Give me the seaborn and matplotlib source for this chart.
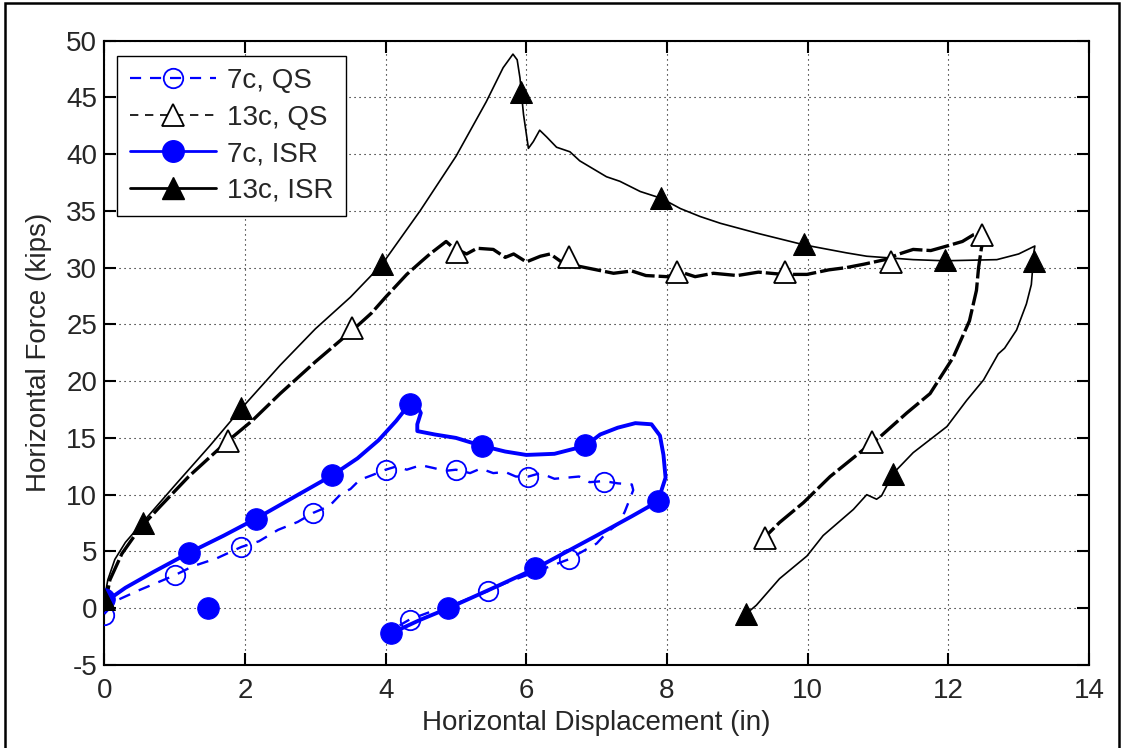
import matplotlib
matplotlib.use("Agg")
import matplotlib.pyplot as plt
import seaborn as sns
import pandas as pd
from matplotlib.lines import Line2D
from matplotlib.patches import Rectangle

# ---------------- data ----------------
qs7_x = [0.0, 0.18, 0.5, 1.0, 1.26, 1.6, 1.95, 2.2, 2.47, 2.75, 2.97, 3.2, 3.37, 3.5, 3.63, 3.8,
         4.0, 4.16, 4.3, 4.5, 4.68, 4.85, 5.0, 5.2, 5.35, 5.53, 5.7, 5.85, 6.03, 6.2, 6.4, 6.58,
         6.75, 6.9, 7.1, 7.3, 7.5, 7.52, 7.47, 7.4, 7.32, 7.15, 7.0, 6.8, 6.6, 6.3, 6.0, 5.7,
         5.45, 5.2, 4.9, 4.6, 4.34, 4.2]
qs7_y = [-0.5, 0.7, 1.6, 2.9, 3.7, 4.4, 5.4, 5.9, 6.9, 7.6, 8.4, 9.0, 10.1, 10.5, 11.3, 11.7,
         12.2, 12.5, 12.2, 12.6, 12.35, 12.1, 12.2, 11.9, 12.3, 11.9, 12.0, 11.6, 11.6, 11.9, 11.4, 11.5,
         11.6, 11.1, 11.2, 11.0, 10.9, 10.4, 9.6, 8.5, 7.5, 6.7, 5.7, 5.0, 4.3, 3.6, 2.9, 2.2,
         1.5, 0.9, 0.15, -0.4, -1.0, -1.5]
qs7_mx = [0.0, 1.0, 1.95, 2.97, 4.0, 5.0, 6.03, 7.1, 6.6, 5.45, 4.34]
qs7_my = [-0.6, 2.9, 5.4, 8.4, 12.2, 12.2, 11.6, 11.1, 4.3, 1.5, -1.0]

isr7_x = [0.0, 0.3, 0.7, 1.21, 1.7, 2.16, 2.7, 3.24, 3.6, 3.9, 4.15, 4.34, 4.45, 4.5, 4.45,
          4.45, 4.7, 5.0, 5.37, 5.7, 6.0, 6.4, 6.84, 7.05, 7.3, 7.55, 7.78, 7.9, 7.95, 7.98,
          7.87, 7.5, 7.0, 6.13, 5.5, 4.89, 4.5, 4.08]
isr7_y = [0.5, 1.8, 3.2, 4.9, 6.4, 7.9, 9.8, 11.7, 13.2, 14.8, 16.5, 18.0, 17.8, 17.2, 16.2,
          15.6, 15.3, 15.0, 14.3, 13.8, 13.5, 13.6, 14.3, 15.3, 15.9, 16.3, 16.2, 15.2, 13.5, 11.5,
          9.4, 8.1, 6.4, 3.5, 1.7, 0.0, -1.0, -2.2]
isr7_mx = [0.0, 1.21, 2.16, 3.24, 4.34, 5.37, 6.84, 7.87, 6.13, 4.89, 4.08, 1.47]
isr7_my = [0.8, 4.9, 7.9, 11.7, 18.0, 14.3, 14.35, 9.4, 3.5, 0.0, -2.2, 0.0]

qs13_x = [0.0, 0.08, 0.25, 0.5, 0.8, 1.2, 1.5, 1.75, 2.1, 2.5, 3.0, 3.55, 3.8, 4.0, 4.3, 4.5,
          4.63, 4.86, 4.95, 5.15, 5.3, 5.53, 5.7, 5.82, 6.0, 6.2, 6.34, 6.5, 6.76, 7.0, 7.24,
          7.5, 7.7, 8.0, 8.2, 8.4, 8.66, 9.0, 9.3, 9.65, 9.99, 10.3, 10.55, 10.8, 11.1, 11.3,
          11.5, 11.75, 11.98, 12.2, 12.36, 12.47, 12.5, 12.47, 12.43, 12.4, 12.3, 12.07, 11.74,
          11.41, 11.03, 10.92, 10.32, 9.94, 9.6, 9.35]
qs13_y = [0.0, 2.5, 4.8, 7.0, 9.0, 11.6, 13.3, 14.7, 16.5, 18.9, 21.7, 24.6, 26.0, 27.4, 29.4, 30.5,
          31.2, 32.3, 31.8, 31.2, 31.7, 31.6, 30.9, 31.2, 30.5, 31.0, 31.2, 30.5, 30.1, 29.8, 29.5,
          29.7, 29.3, 29.2, 29.6, 29.2, 29.5, 29.3, 29.6, 29.4, 29.4, 29.8, 30.0, 30.3, 30.7, 31.2,
          31.6, 31.5, 31.9, 32.3, 32.9, 33.1, 32.5, 31.7, 30.0, 28.0, 25.3, 22.1, 18.9,
          17.2, 15.1, 14.6, 11.6, 9.3, 7.55, 6.0]
qs13_mx = [1.76, 3.52, 5.02, 6.6, 8.14, 9.68, 11.18, 12.48, 10.92, 9.39]
qs13_my = [14.75, 24.7, 31.4, 30.9, 29.6, 29.6, 30.5, 32.9, 14.6, 6.2]

isr13_x = [0.0, 0.05, 0.15, 0.3, 0.55, 1.0, 1.5, 1.95, 2.5, 3.0, 3.5, 3.95, 4.49, 5.0, 5.43,
           5.67, 5.81, 5.87, 5.91, 5.93, 5.96, 6.03, 6.1, 6.19, 6.29, 6.43, 6.62, 6.76, 7.14,
           7.33, 7.62, 7.92, 8.19, 8.47, 8.76, 9.3, 9.95, 10.55, 10.84, 11.5, 11.95, 12.69,
           13.0, 13.23, 13.22, 13.18, 13.11, 12.97, 12.8, 12.71, 12.5, 12.26, 11.98, 11.5,
           11.22, 11.05, 10.98, 10.84, 10.65, 10.22, 9.99, 9.6, 9.27, 9.13]
isr13_y = [0.8, 2.5, 4.3, 5.8, 7.6, 10.8, 14.3, 17.6, 21.4, 24.6, 27.4, 30.3, 35.0, 39.8, 44.6,
           47.6, 48.8, 48.3, 46.7, 45.4, 43.5, 40.5, 41.1, 42.1, 41.5, 40.6, 40.2, 39.4, 38.0,
           37.6, 36.7, 36.1, 35.2, 34.5, 33.9, 33.0, 32.0, 31.3, 31.0, 30.7, 30.6, 30.7,
           31.2, 31.9, 31.5, 28.5, 26.8, 24.5, 22.9, 22.4, 20.1, 18.3, 16.0, 13.7,
           11.9, 9.9, 9.6, 10.0, 8.7, 6.4, 4.6, 2.6, 0.26, -0.47]
isr13_mx = [0.0, 0.55, 1.95, 3.95, 5.93, 7.92, 9.95, 11.95, 13.22, 11.22, 9.13]
isr13_my = [0.8, 7.5, 17.6, 30.3, 45.5, 36.1, 32.1, 30.7, 30.6, 11.8, -0.5]

labels = ["7c, QS", "13c, QS", "7c, ISR", "13c, ISR"]
x_ticks = [0, 2, 4, 6, 8, 10, 12, 14]
y_ticks = [-5, 0, 5, 10, 15, 20, 25, 30, 35, 40, 45, 50]

# ---------------- style ----------------
sns.set_style("white")
plt.rcParams["font.family"] = ["Liberation Sans", "DejaVu Sans"]
FS = 20

fig = plt.figure(figsize=(11.22, 7.48), dpi=100)
ax = fig.add_axes([104.3 / 1122, 1 - 665 / 748, (1089 - 104.3) / 1122, (665 - 40.5) / 748])

BLUE = "#0000ff"


def line(x, y, **kw):
    df = pd.DataFrame({"x": x, "y": y})
    sns.lineplot(data=df, x="x", y="y", sort=False, estimator=None, ax=ax, **kw)


def marks(x, y, **kw):
    df = pd.DataFrame({"x": x, "y": y})
    sns.lineplot(data=df, x="x", y="y", sort=False, estimator=None, ax=ax,
                 linestyle="", **kw)


# 13c ISR (thin solid black)
line(isr13_x, isr13_y, color="black", linewidth=1.2, zorder=3)
marks(isr13_mx, isr13_my, marker="^", markersize=16, color="black",
      markerfacecolor="black", markeredgecolor="black", zorder=6)
# 13c QS (noisy dashed black)
line(qs13_x, qs13_y, color="black", linewidth=2.4, dashes=(7, 1.2), zorder=3)
marks(qs13_mx, qs13_my, marker="^", markersize=16, color="black",
      markerfacecolor="white", markeredgecolor="black", markeredgewidth=1.3, zorder=6)
# 7c ISR (thick solid blue)
line(isr7_x, isr7_y, color=BLUE, linewidth=2.8, zorder=4)
marks(isr7_mx, isr7_my, marker="o", markersize=15.5, color=BLUE,
      markerfacecolor=BLUE, markeredgecolor=BLUE, zorder=5)
# 7c QS (dashed blue)
line(qs7_x, qs7_y, color=BLUE, linewidth=1.7, dashes=(5, 4), zorder=4)
marks(qs7_mx, qs7_my, marker="o", markersize=14, color=BLUE,
      markerfacecolor="none", markeredgecolor=BLUE, markeredgewidth=1.3, zorder=5)

ax.set_xlim(0, 14)
ax.set_ylim(-5, 50)
ax.set_xticks(x_ticks)
ax.set_yticks(y_ticks)
ax.set_xticklabels([str(v) for v in x_ticks])
ax.set_yticklabels([str(v) for v in y_ticks])
ax.set_xlabel("Horizontal Displacement (in)", fontsize=FS, labelpad=5)
ax.set_ylabel("Horizontal Force (kips)", fontsize=FS, labelpad=10)

ax.tick_params(axis="both", which="both", direction="in", length=8.5, width=1.5,
               labelsize=FS, top=True, right=True, bottom=True, left=True, color="black")
ax.tick_params(axis="x", pad=9)
ax.tick_params(axis="y", pad=5)
for s in ax.spines.values():
    s.set_visible(True)
    s.set_color("black")
    s.set_linewidth(1.5)
ax.grid(True, color="black", linestyle=(0, (1, 3.5)), linewidth=0.8)
ax.set_axisbelow(True)

# legend
handles = [
    Line2D([], [], color=BLUE, linewidth=1.6, dashes=(5, 4), marker="o", markersize=14,
           markerfacecolor="none", markeredgecolor=BLUE, markeredgewidth=1.3),
    Line2D([], [], color="black", linewidth=1.2, dashes=(5, 4), marker="^", markersize=16,
           markerfacecolor="white", markeredgecolor="black", markeredgewidth=1.3),
    Line2D([], [], color=BLUE, linewidth=2.0, marker="o", markersize=15.5,
           markerfacecolor=BLUE, markeredgecolor=BLUE),
    Line2D([], [], color="black", linewidth=2.0, marker="^", markersize=16,
           markerfacecolor="black", markeredgecolor="black"),
]
leg = ax.legend(handles, labels, loc="upper left", bbox_to_anchor=(13 / 985, 1 - 15 / 624.5),
                borderaxespad=0, fontsize=FS, frameon=True, fancybox=False, shadow=False,
                framealpha=1, edgecolor="black", handlelength=3.1, handletextpad=0.4,
                labelspacing=0.38, borderpad=0.45)
leg.get_frame().set_linewidth(1.0)
leg.set_zorder(10)

# figure border (clipped at bottom as in reference)
fig.patches.append(Rectangle((5 / 1122, -0.02), (1119 - 5) / 1122, 1.02 - 3 / 748,
                             transform=fig.transFigure, fill=False, edgecolor="black",
                             linewidth=1.8, zorder=100))

fig.savefig("out.png", dpi=100, facecolor="white")
